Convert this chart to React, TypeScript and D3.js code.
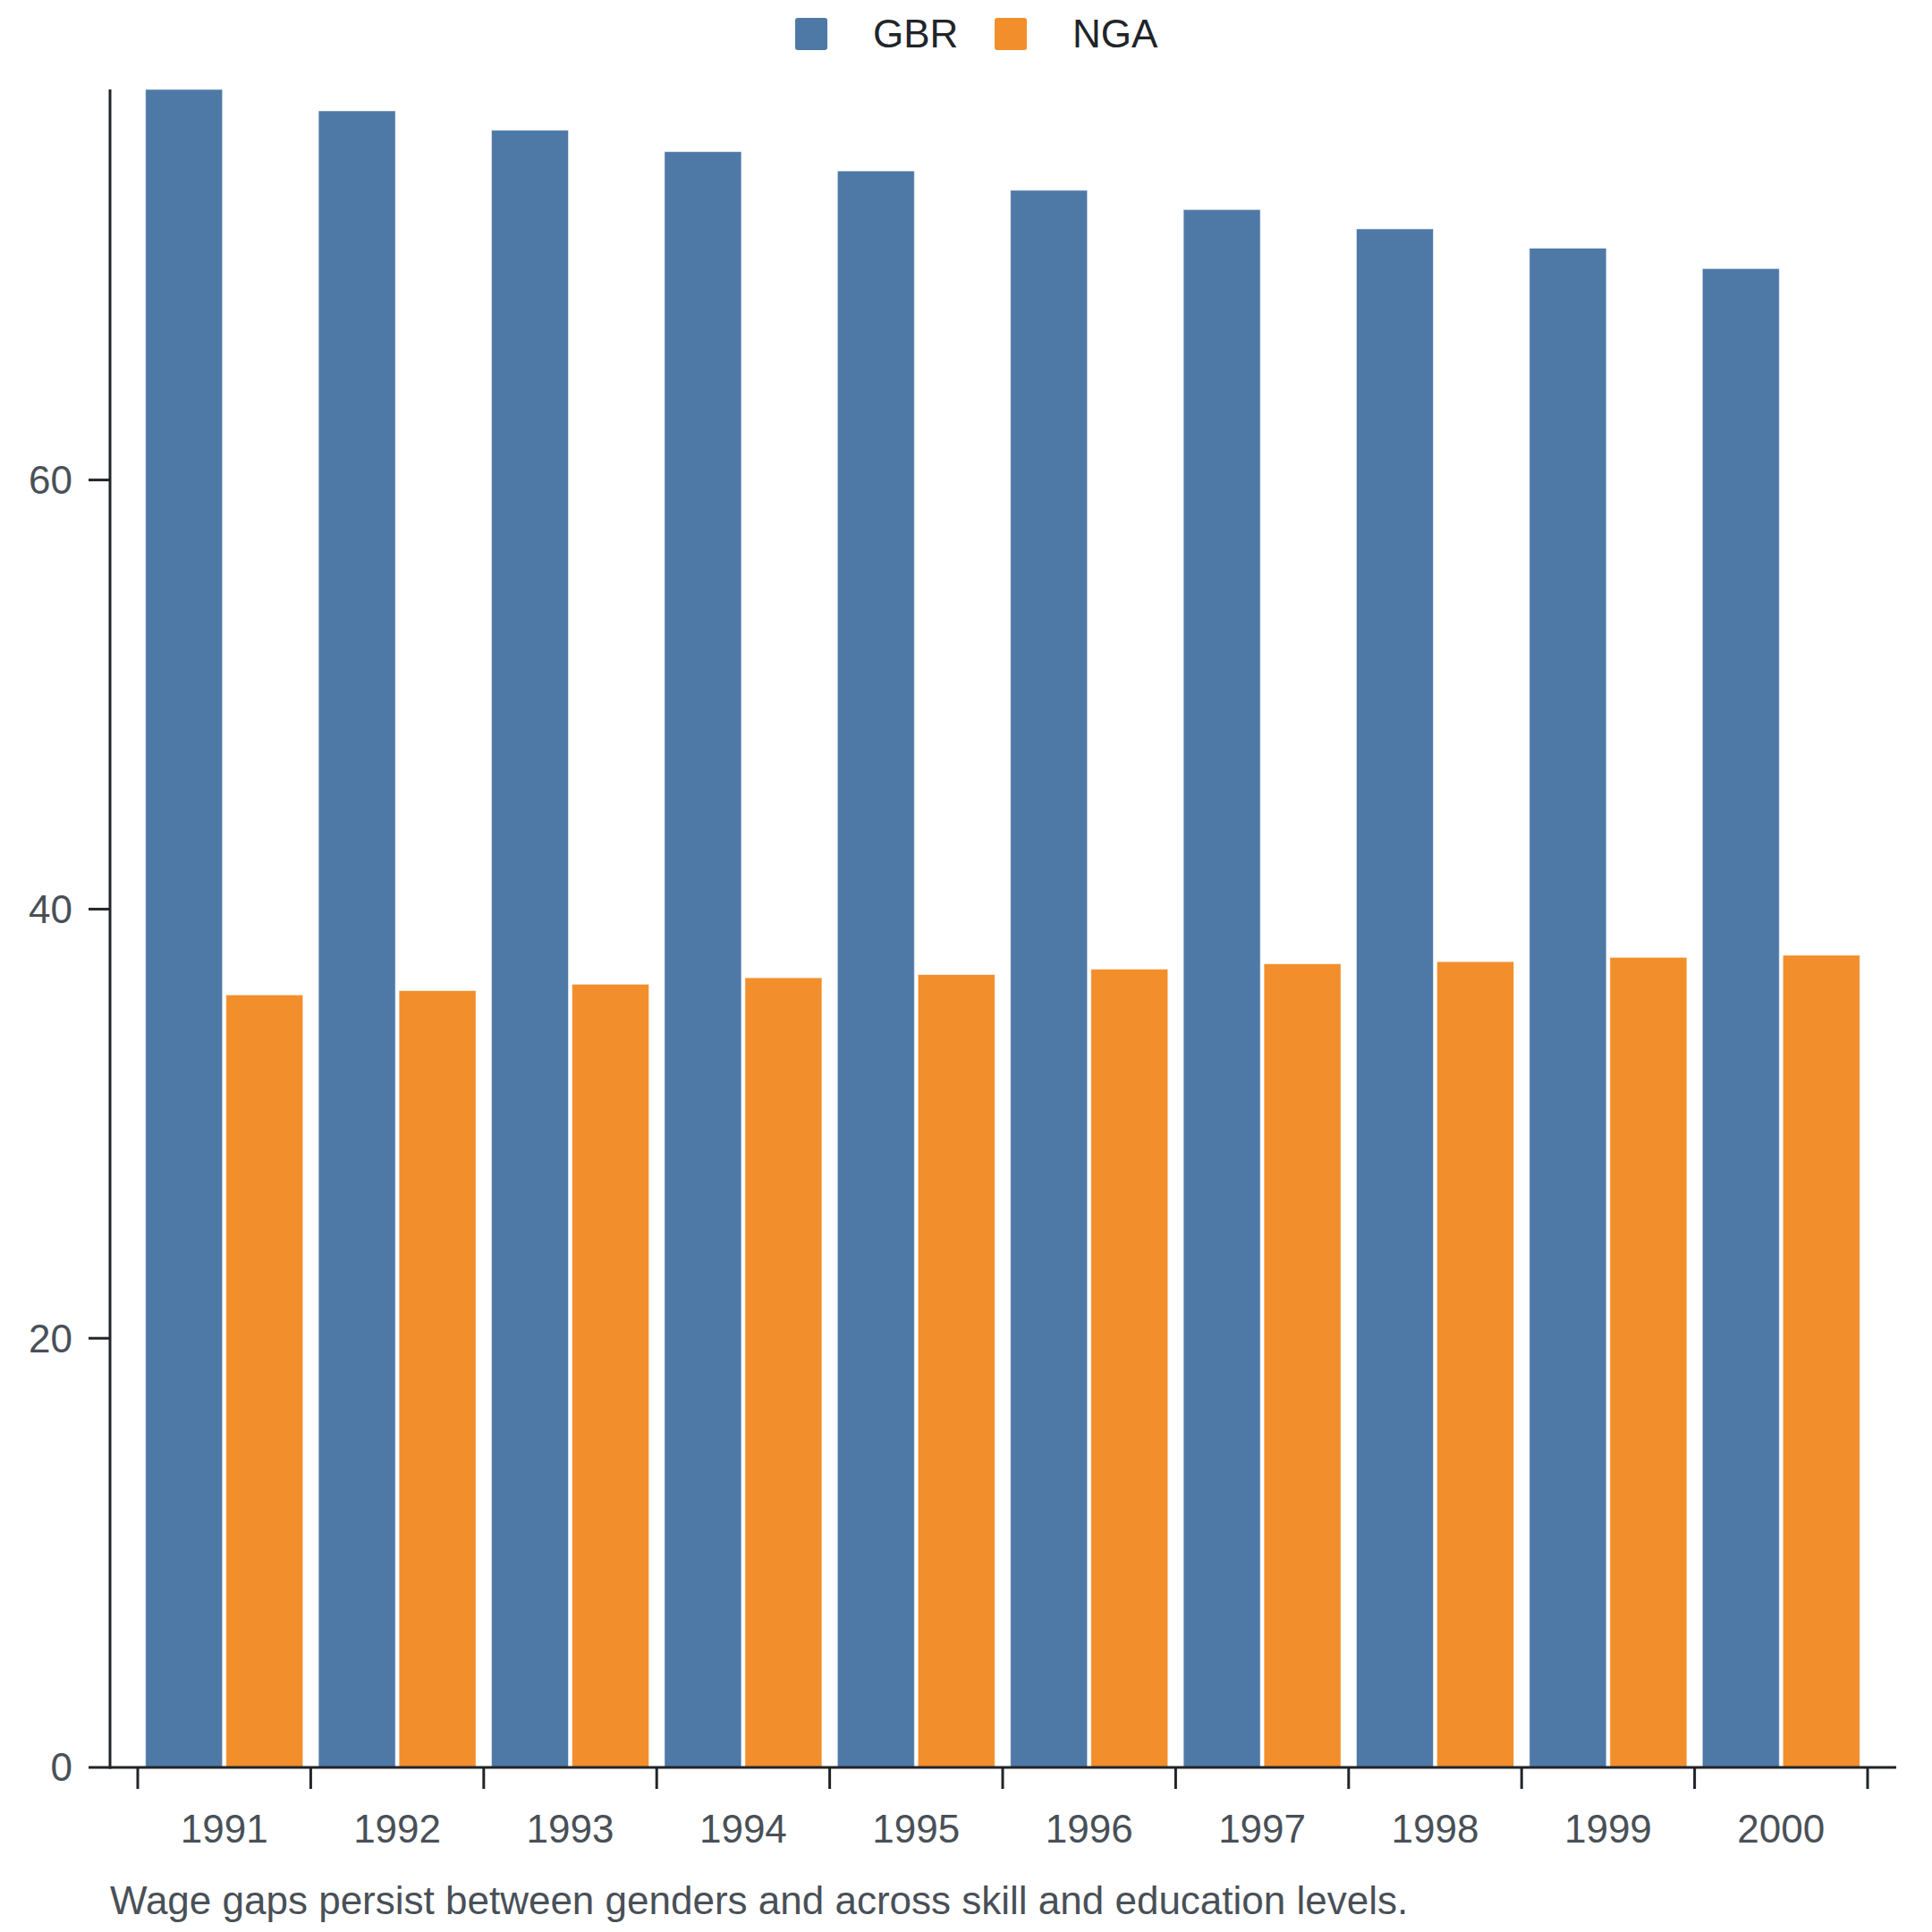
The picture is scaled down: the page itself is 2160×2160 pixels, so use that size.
import React, { useEffect } from "react";
import * as d3 from "d3";

const years = ["1991", "1992", "1993", "1994", "1995", "1996", "1997", "1998", "1999", "2000"];
const seriesNames = ["GBR", "NGA"];
const gbrValues = [78.2, 77.2, 76.3, 75.3, 74.4, 73.5, 72.6, 71.7, 70.8, 69.85];
const ngaValues = [36.0, 36.2, 36.5, 36.8, 36.95, 37.2, 37.45, 37.55, 37.75, 37.85];
const yTicks = [0, 20, 40, 60];
const note = "Wage gaps persist between genders and across skill and education levels.";

const colors: Record<string, string> = { GBR: "#4e79a7", NGA: "#f28e2b" };
const font = "'Liberation Sans', Arial, Helvetica, sans-serif";
const axisColor = "#212529";
const labelColor = "#495057";

const App: React.FC = () => {
  useEffect(() => {
    document.body.style.margin = "0";
  }, []);

  const width = 2160;
  const height = 2160;
  const axisX = 123;
  const top = 100;
  const baseline = 1976;
  const axisEnd = 2120;

  const rows = years.map((year, i) => ({ year, GBR: gbrValues[i], NGA: ngaValues[i] }));

  const x0 = d3
    .scaleBand<string>()
    .domain(years)
    .range([154, 2088])
    .paddingInner(0.09)
    .paddingOuter(0.045);

  const x1 = d3
    .scaleBand<string>()
    .domain(seriesNames)
    .range([0, x0.bandwidth()])
    .paddingInner(0.045);

  const y = d3
    .scaleLinear()
    .domain([0, d3.max([...gbrValues, ...ngaValues]) || 0])
    .range([baseline, top]);

  const step = x0.step();
  const edgeTicks = d3.range(years.length + 1).map(i => 154 + i * step);

  return (
    <svg width={width} height={height} style={{ display: "block" }} fontFamily={font}>
      <rect width={width} height={height} fill="#fff" />

      {/* legend */}
      <g>
        {seriesNames.map((name, i) => {
          const lx = 889 + i * 223;
          return (
            <g key={name}>
              <rect x={lx} y={20} width={36} height={36} rx={3} fill={colors[name]} />
              <text x={lx + 87} y={53} fontSize={44} fill={axisColor}>
                {name}
              </text>
            </g>
          );
        })}
      </g>

      {/* bars */}
      {rows.map(row => (
        <g key={row.year} transform={`translate(${x0(row.year)},0)`}>
          {seriesNames.map(name => {
            const v = (row as any)[name] as number;
            return (
              <rect
                key={name}
                x={x1(name)}
                y={y(v)}
                width={x1.bandwidth()}
                height={y(0) - y(v)}
                fill={colors[name]}
                stroke="#fff"
                strokeOpacity={0.5}
                strokeWidth={1}
              />
            );
          })}
        </g>
      ))}

      {/* y axis */}
      <line x1={axisX} x2={axisX} y1={top} y2={baseline + 1.5} stroke={axisColor} strokeWidth={3} />
      {yTicks.map(t => (
        <g key={t} transform={`translate(0,${y(t)})`}>
          <line x1={axisX - 24} x2={axisX} stroke={axisColor} strokeWidth={3} />
          <text x={axisX - 42} dy="0.35em" textAnchor="end" fontSize={44} fill={labelColor}>
            {t}
          </text>
        </g>
      ))}

      {/* x axis */}
      <line x1={axisX} x2={axisEnd} y1={baseline} y2={baseline} stroke={axisColor} strokeWidth={3} />
      {edgeTicks.map((tx, i) => (
        <line key={i} x1={tx} x2={tx} y1={baseline} y2={baseline + 24} stroke={axisColor} strokeWidth={3} />
      ))}
      {years.map(year => (
        <text
          key={year}
          x={(x0(year) || 0) + x0.bandwidth() / 2}
          y={2060}
          textAnchor="middle"
          fontSize={44}
          fill={labelColor}
        >
          {year}
        </text>
      ))}

      {/* note */}
      <text x={axisX} y={2140} fontSize={44} fill={labelColor}>
        {note}
      </text>
    </svg>
  );
};

export default App;
